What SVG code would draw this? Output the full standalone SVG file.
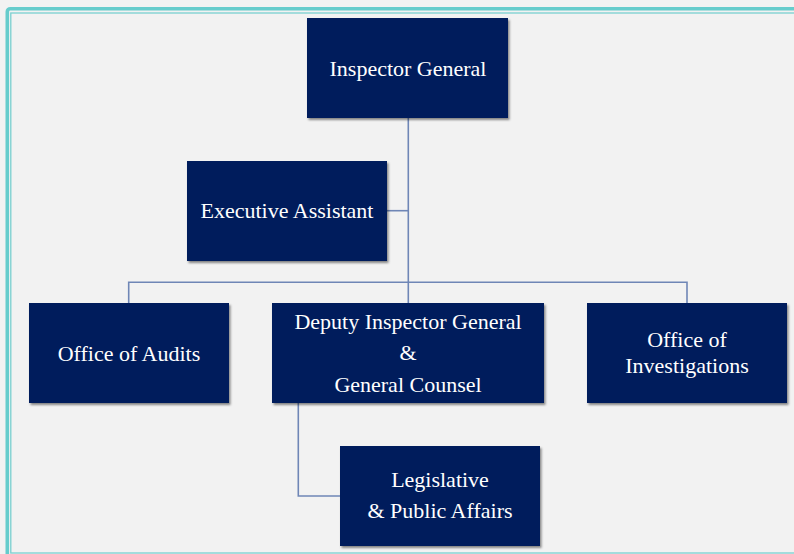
<svg xmlns="http://www.w3.org/2000/svg" width="794" height="554" viewBox="0 0 794 554">
  <defs>
    <filter id="sh" x="-5%" y="-5%" width="115%" height="120%">
      <feDropShadow dx="1.5" dy="2" stdDeviation="1.2" flood-color="#000" flood-opacity="0.45"/>
    </filter>
    <style>
      .box { fill: #001f5c; filter: url(#sh); }
      .t { fill: #ffffff; font-family: "Liberation Serif", "Times New Roman", serif; font-size: 22px; text-anchor: middle; }
      .conn { fill: none; stroke: #6f86b6; stroke-width: 1.6; }
    </style>
  </defs>
  <rect x="0" y="0" width="794" height="554" fill="#f2f2f2"/>
  <g id="frame" fill="none">
    <rect x="7.3" y="8.7" width="820" height="580" rx="3" stroke="#66cccc" stroke-width="3.6"/>
    <rect x="10.8" y="13" width="820" height="540" stroke="#79d0d0" stroke-width="1.3"/>
  </g>
  <g id="connectors" class="conn">
    <line x1="408.3" y1="118" x2="408.3" y2="303"/>
    <line x1="387" y1="210.7" x2="408.3" y2="210.7"/>
    <polyline points="128.7,303 128.7,282.3 687,282.3 687,303"/>
    <polyline points="298.3,403 298.3,496 340,496"/>
  </g>
  <g id="inspector-general">
    <rect class="box" x="307" y="18" width="201" height="100"/>
    <text class="t" x="408" y="76">Inspector General</text>
  </g>
  <g id="executive-assistant">
    <rect class="box" x="187" y="161" width="200" height="100"/>
    <text class="t" x="287" y="218">Executive Assistant</text>
  </g>
  <g id="office-of-audits">
    <rect class="box" x="29" y="303" width="200" height="100"/>
    <text class="t" x="129" y="360.5">Office of Audits</text>
  </g>
  <g id="deputy-inspector-general">
    <rect class="box" x="272" y="303" width="272" height="100"/>
    <text class="t" x="408" y="328.5">Deputy Inspector General</text>
    <text class="t" x="408" y="360">&amp;</text>
    <text class="t" x="408" y="391.5">General Counsel</text>
  </g>
  <g id="office-of-investigations">
    <rect class="box" x="587" y="303" width="200" height="100"/>
    <text class="t" x="687" y="347">Office of</text>
    <text class="t" x="687" y="372.5">Investigations</text>
  </g>
  <g id="legislative-public-affairs">
    <rect class="box" x="340" y="446" width="200" height="100"/>
    <text class="t" x="440" y="487">Legislative</text>
    <text class="t" x="440" y="518">&amp; Public Affairs</text>
  </g>
</svg>
